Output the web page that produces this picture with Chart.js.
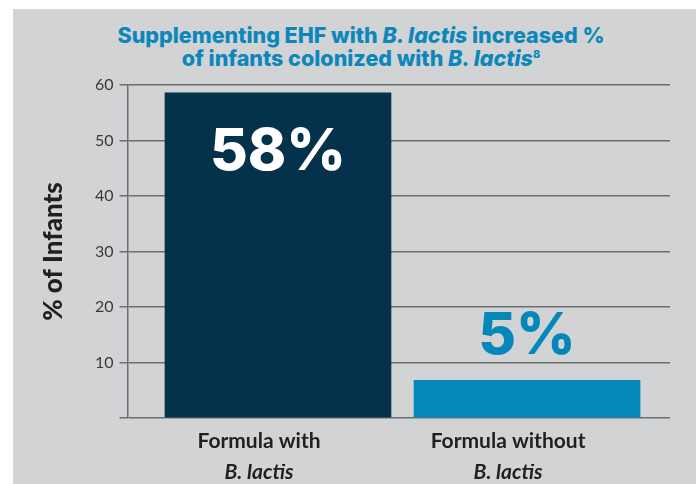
<!DOCTYPE html>
<html>
<head>
<meta charset="utf-8">
<script src="https://cdn.jsdelivr.net/npm/chart.js@4.4.0/dist/chart.umd.min.js"></script>
<style>
  html, body { margin: 0; padding: 0; background: #fff; }
  #wrap { position: relative; width: 696px; height: 484px; overflow: hidden; }
  #panel { position: absolute; left: 13px; top: 9px; right: 0; bottom: 0; background: #d1d3d4; }
  #title {
    position: absolute; left: 26px; width: 670px; top: 24px;
    text-align: center; color: #0b87bc;
    font: 800 21.5px/23px Inter, "Open Sans", sans-serif;
  }
  #title i { font-style: italic; }
  #title sup { font-size: 11px; line-height: 0; vertical-align: 8px; }
  canvas { position: absolute; left: 0; top: 0; }
</style>
</head>
<body>
<div id="wrap">
  <div id="panel"></div>
  <div id="title">Supplementing EHF with <i>B. lactis</i> increased %<br>of infants colonized with <i>B. lactis</i><sup>8</sup></div>
  <canvas id="chart" width="696" height="484"></canvas>
</div>
<script>
// data
const categoriesTop = ['Formula with', 'Formula without'];
const categoriesBottom = ['B. lactis', 'B. lactis'];
const values = [58.6, 6.8];
const barLabels = ['58%', '5%'];
const barColors = ['#04324b', '#0587b9'];
const yTicks = [0, 10, 20, 30, 40, 50, 60];

const positions = values.map((v, i) => i + 1);
const xMin = 0.396, xMax = 2.574;

const barLabelPlugin = {
  id: 'barLabels',
  afterDatasetsDraw(chart) {
    const ctx = chart.ctx;
    const meta = chart.getDatasetMeta(0);
    ctx.save();
    ctx.font = '800 58px Inter';
    ctx.textAlign = 'center';
    ctx.textBaseline = 'middle';
    meta.data.forEach((bar, i) => {
      const h = bar.base - bar.y;
      if (h > 120) {
        ctx.fillStyle = '#ffffff';
        ctx.fillText(barLabels[i], bar.x, bar.y + 60);
      } else {
        ctx.fillStyle = barColors[i];
        ctx.fillText(barLabels[i], bar.x, bar.y - 44);
      }
    });
    ctx.restore();
  }
};

const labelAxis = (lines, font, padding, weight) => ({
  type: 'linear',
  position: 'bottom',
  min: xMin,
  max: xMax,
  offset: false,
  weight: weight,
  afterBuildTicks: axis => { axis.ticks = positions.map(p => ({ value: p })); },
  grid: { display: false, drawTicks: false, offset: false },
  border: { display: false },
  ticks: {
    autoSkip: false,
    maxRotation: 0,
    padding: padding,
    labelOffset: -19,
    color: '#231f20',
    font: font,
    callback: (v, i) => lines[i]
  }
});

new Chart(document.getElementById('chart').getContext('2d'), {
  type: 'bar',
  data: {
    datasets: [{
      data: values.map((v, i) => ({ x: positions[i], y: v })),
      backgroundColor: barColors,
      borderWidth: 0,
      barThickness: 226
    }]
  },
  plugins: [barLabelPlugin],
  options: {
    responsive: false,
    animation: false,
    layout: { padding: { left: 29, right: 26, top: 85, bottom: 4 } },
    plugins: { legend: { display: false }, tooltip: { enabled: false } },
    scales: {
      x: { type: 'linear', min: xMin, max: xMax, offset: false, display: false, grid: { offset: false } },
      x2: labelAxis(categoriesTop, { family: 'Lato', size: 21, weight: 'bold' }, 10.4, 1),
      x3: labelAxis(categoriesBottom, { family: 'Lato', size: 21, weight: 'bold', style: 'italic' }, -4.6, 2),
      y: {
        min: 0,
        max: 60,
        afterBuildTicks: axis => { axis.ticks = yTicks.map(v => ({ value: v })); },
        grid: { color: '#6d6e71', lineWidth: 1.5, tickLength: 8 },
        border: { display: true, color: '#6d6e71', width: 1.5 },
        ticks: {
          padding: 6,
          color: '#3a3a3c',
          font: { family: 'Lato', size: 16 },
          callback: v => (v === 0 ? '' : v)
        },
        title: {
          display: true,
          text: '% of Infants',
          color: '#231f20',
          font: { family: 'Lato', size: 26, weight: 900 },
          padding: { top: 9.4, bottom: 19.4 }
        }
      }
    }
  }
});
</script>
</body>
</html>
